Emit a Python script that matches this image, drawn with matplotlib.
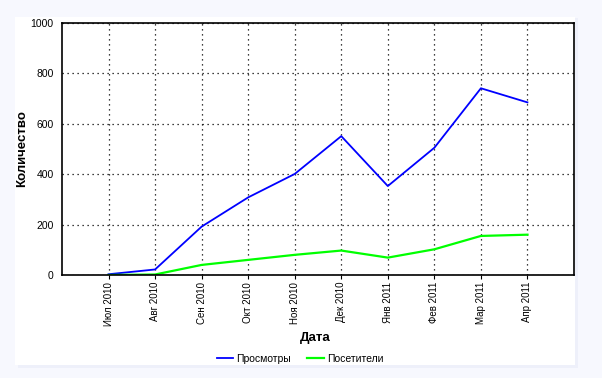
import matplotlib
matplotlib.use("Agg")
import matplotlib.pyplot as plt
from matplotlib.patches import Rectangle

months = ["Июл 2010", "Авг 2010", "Сен 2010", "Окт 2010", "Ноя 2010", "Дек 2010",
          "Янв 2011", "Фев 2011", "Мар 2011", "Апр 2011"]
views = [3, 22, 192, 308, 401, 551, 353, 505, 741, 685]
visitors = [0, 2, 40, 60, 80, 97, 69, 102, 155, 160]
yticks = [0, 200, 400, 600, 800, 1000]

plt.rcParams['font.family'] = ['Liberation Sans', 'DejaVu Sans']
W, H = 602, 378
fig = plt.figure(figsize=(W/100, H/100), dpi=100, facecolor='#f7f8fe')
# white panel with soft shadow
fig.patches.append(Rectangle((18/W, 1-368/H), 560/W, 350/H, transform=fig.transFigure,
                             facecolor='#eef0fa', edgecolor='none', zorder=-10))
fig.patches.append(Rectangle((15/W, 1-365/H), 560/W, 348/H, transform=fig.transFigure,
                             facecolor='white', edgecolor='none', zorder=-9))

ax = fig.add_axes([62/W, 1-275/H, (574-62)/W, (275-23)/H])
ax.set_zorder(1)
x = list(range(len(months)))
ax.plot(x, views, color='#0000ff', lw=1.3, label='Просмотры')
ax.plot(x, visitors, color='#00ff00', lw=1.6, label='Посетители')
ax.set_xlim(-1, 10)
ax.set_ylim(0, 1000)
ax.set_yticks(yticks)
ax.set_yticklabels([str(v) for v in yticks], fontsize=7.5)
ax.set_xticks(x)
ax.set_xticklabels(months, rotation=90, fontsize=7)
ax.tick_params(axis='y', length=0, pad=6)
ax.tick_params(axis='x', length=3, direction='out', pad=2)
ax.grid(True, color='black', linestyle=(0, (1, 3)), lw=0.9)
for s in ax.spines.values():
    s.set_linewidth(1.2)
fig.text(315/W, 1-338/H, 'Дата', fontsize=9.5, fontweight='bold', ha='center', va='center')
fig.text(22/W, 1-149/H, 'Количество', fontsize=9.5, fontweight='bold', rotation=90,
         ha='center', va='center')
fig.legend(loc='center', bbox_to_anchor=(300/W, 1-359/H), ncol=2, frameon=False,
           fontsize=7.5, handlelength=1.6, handletextpad=0.3, columnspacing=1.5)
fig.savefig('out.png', dpi=100, facecolor=fig.get_facecolor())
